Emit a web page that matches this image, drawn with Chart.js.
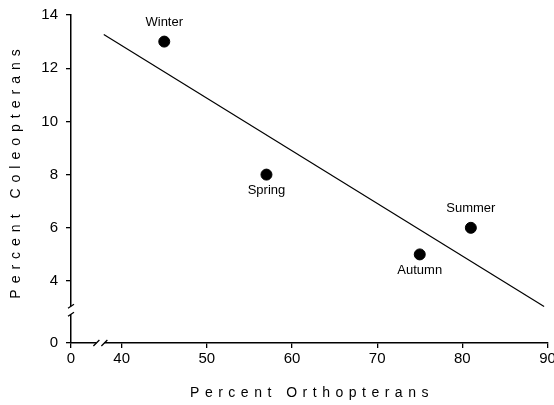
<!DOCTYPE html>
<html>
<head>
<meta charset="utf-8">
<script src="https://cdn.jsdelivr.net/npm/chart.js@4/dist/chart.umd.min.js"></script>
<style>
  html, body { margin: 0; padding: 0; background: #fff; overflow: hidden; }
  #wrap { width: 554px; height: 405px; position: relative; }
</style>
</head>
<body>
<div id="wrap"><canvas id="c"></canvas></div>
<script>
// ---- data ----
const seasons = ['Winter', 'Spring', 'Autumn', 'Summer'];
const percentOrthopterans = [45, 57, 75, 81];
const percentColeopterans = [13, 8, 5, 6];
const labelSide = ['above', 'below', 'below', 'above'];
// regression line end points
const fitX = [37.9, 89.6];
const fitY = [13.27, 3.04];
// axis ticks (the "0" tick sits before a broken axis)
const xTickValues = [40, 50, 60, 70, 80, 90];
const yTickValues = [4, 6, 8, 10, 12, 14];
const xZeroAt = 34.05;   // axis value where the "0" label is drawn (axis break)
const yZeroAt = 1.67;
const xBreakAt = 37.5;
const yBreakAt = 2.9;
const xTitle = 'Percent Orthopterans';
const yTitle = 'Percent Coleopterans';

const FONT = '"Liberation Sans", Arial, Helvetica, sans-serif';

const scatterData = percentOrthopterans.map((x, i) => ({ x: x, y: percentColeopterans[i] }));
const fitData = fitX.map((x, i) => ({ x: x, y: fitY[i] }));

const decorations = {
  id: 'decorations',
  afterDatasetsDraw(chart) {
    const ctx = chart.ctx;
    const meta = chart.getDatasetMeta(1);
    ctx.save();
    ctx.fillStyle = '#000';
    ctx.font = '13px ' + FONT;
    ctx.textAlign = 'center';
    ctx.textBaseline = 'middle';
    meta.data.forEach((pt, i) => {
      const dy = labelSide[i] === 'above' ? -19 : 16;
      ctx.fillText(seasons[i], pt.x, pt.y + dy);
    });
    ctx.restore();
  },
  afterDraw(chart) {
    const ctx = chart.ctx;
    const xs = chart.scales.x, ys = chart.scales.y;
    const area = chart.chartArea;
    ctx.save();
    // axis breaks
    const bx = xs.getPixelForValue(xBreakAt);
    const by = ys.getPixelForValue(yBreakAt);
    ctx.fillStyle = '#fff';
    ctx.fillRect(bx - 4, area.bottom - 3, 8, 6);
    ctx.fillRect(area.left - 3, by - 4, 6, 8);
    ctx.strokeStyle = '#000';
    ctx.lineWidth = 1.3;
    ctx.beginPath();
    [-4, 4].forEach(o => {
      ctx.moveTo(bx + o - 3, area.bottom + 3);
      ctx.lineTo(bx + o + 3, area.bottom - 3);
      ctx.moveTo(area.left - 3, by + o + 2);
      ctx.lineTo(area.left + 3, by + o - 2);
    });
    ctx.stroke();
    // axis titles
    ctx.fillStyle = '#000';
    ctx.font = '14px ' + FONT;
    ctx.textAlign = 'center';
    ctx.textBaseline = 'middle';
    ctx.letterSpacing = '5.5px';
    ctx.fillText(xTitle, 312, 393);
    ctx.translate(16, 174);
    ctx.rotate(-Math.PI / 2);
    ctx.letterSpacing = '6px';
    ctx.fillText(yTitle, 3, 0);
    ctx.restore();
  }
};

new Chart(document.getElementById('c'), {
  type: 'scatter',
  data: {
    datasets: [
      {
        type: 'line',
        data: fitData,
        borderColor: '#000',
        borderWidth: 1.2,
        pointRadius: 0,
        fill: false
      },
      {
        data: scatterData,
        backgroundColor: '#000',
        borderColor: '#000',
        pointRadius: 5.5,
        pointHoverRadius: 5.5
      }
    ]
  },
  options: {
    responsive: true,
    maintainAspectRatio: false,
    animation: false,
    events: [],
    layout: { padding: { left: 0, right: 6, top: 15, bottom: 0 } },
    plugins: { legend: { display: false }, tooltip: { enabled: false } },
    scales: {
      x: {
        type: 'linear',
        min: xZeroAt,
        max: 90,
        afterBuildTicks(scale) {
          scale.ticks = [{ value: xZeroAt }].concat(xTickValues.map(v => ({ value: v })));
        },
        afterFit(scale) {
          scale.height = 62;
          scale.paddingLeft = 0; scale.paddingRight = 0;
        },
        ticks: {
          color: '#000',
          font: { family: FONT, size: 15 },
          padding: 2,
          maxRotation: 0,
          autoSkip: false,
          callback: (v) => (v === xZeroAt ? '0' : String(v))
        },
        grid: { display: true, drawOnChartArea: false, drawTicks: true, tickLength: 5, color: '#000', lineWidth: 1.3 },
        border: { display: true, color: '#000', width: 1.5 }
      },
      y: {
        type: 'linear',
        min: yZeroAt,
        max: 14,
        afterBuildTicks(scale) {
          scale.ticks = [{ value: yZeroAt }].concat(yTickValues.map(v => ({ value: v })));
        },
        afterFit(scale) {
          scale.width = 71;
          scale.paddingTop = 0; scale.paddingBottom = 0;
        },
        ticks: {
          color: '#000',
          font: { family: FONT, size: 15 },
          padding: 8,
          autoSkip: false,
          callback: (v) => (v === yZeroAt ? '0' : String(v))
        },
        grid: { display: true, drawOnChartArea: false, drawTicks: true, tickLength: 5, color: '#000', lineWidth: 1.3 },
        border: { display: true, color: '#000', width: 1.5 }
      }
    }
  },
  plugins: [decorations]
});
</script>
</body>
</html>
